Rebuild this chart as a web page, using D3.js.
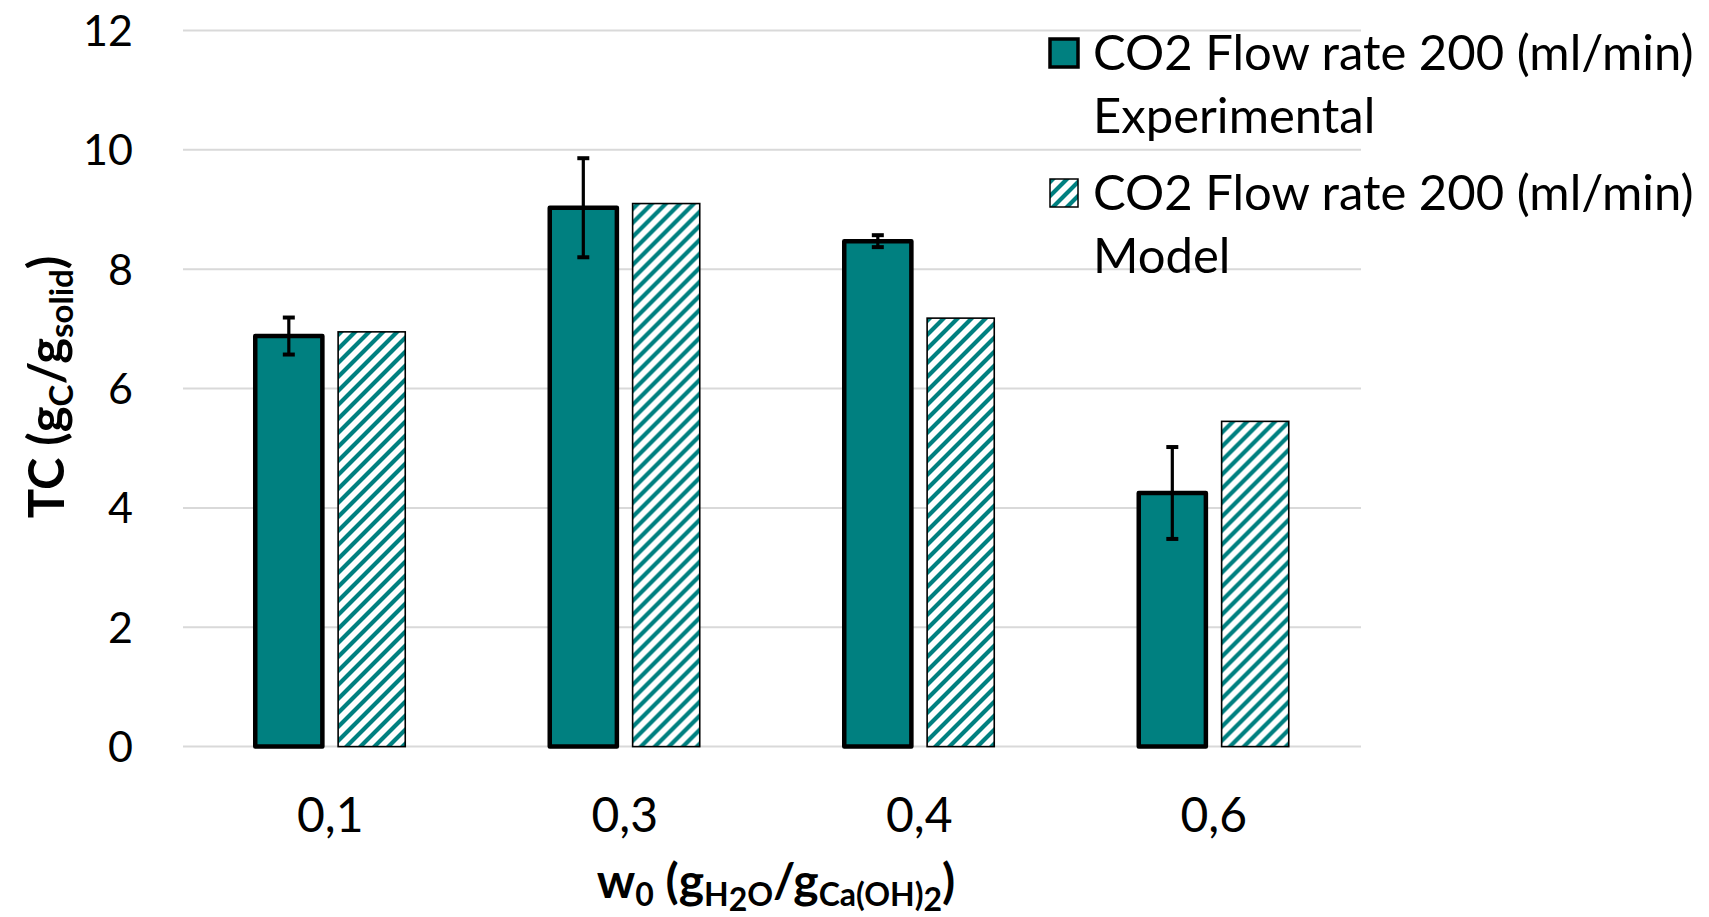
<!DOCTYPE html>
<html>
<head>
<meta charset="utf-8">
<title>TC vs w0</title>
<script src="https://cdn.jsdelivr.net/npm/d3@7"></script>
<style>
  body { margin: 0; background: #fff; }
  text { font-family: Lato, "Open Sans", sans-serif; fill: #000; }
</style>
</head>
<body>
<script>
// data
var categories = ["0,1", "0,3", "0,4", "0,6"];
var experimental = [6.88, 9.03, 8.47, 4.25];
var expError = [0.31, 0.83, 0.10, 0.77];
var model = [6.95, 9.10, 7.18, 5.45];
var yTicks = [0, 2, 4, 6, 8, 10, 12];
var seriesNames = ["exp", "model"];
var legendLines = [
  ["CO2 Flow rate 200 (ml/min)", "Experimental"],
  ["CO2 Flow rate 200 (ml/min)", "Model"]
];

var width = 1709, height = 917;
var teal = "#008080";
var plotLeft = 183, plotRight = 1361, plotTop = 30.5, plotBottom = 746.6;

var svg = d3.select("body").append("svg")
  .attr("width", width)
  .attr("height", height);

// hatch for the model bars
var defs = svg.append("defs");
var pat = defs.append("pattern")
  .attr("id", "hatch")
  .attr("patternUnits", "userSpaceOnUse")
  .attr("width", 14)
  .attr("height", 14);
pat.append("rect").attr("width", 14).attr("height", 14).attr("fill", "#fff");
pat.append("path")
  .attr("d", "M-3,3 L3,-3 M0,14 L14,0 M11,17 L17,11")
  .attr("stroke", teal)
  .attr("stroke-width", 4.2);

var y = d3.scaleLinear().domain([0, 12]).range([plotBottom, plotTop]);
var x0 = d3.scaleBand().domain(categories).range([plotLeft, plotRight]);
var groupW = 150;
var x1 = d3.scaleBand().domain(seriesNames)
  .range([(x0.bandwidth() - groupW) / 2, (x0.bandwidth() + groupW) / 2])
  .paddingInner(0.19);

// gridlines
svg.append("g").selectAll("line")
  .data(yTicks)
  .enter().append("line")
  .attr("x1", plotLeft).attr("x2", plotRight)
  .attr("y1", function(d){ return y(d); })
  .attr("y2", function(d){ return y(d); })
  .attr("stroke", "#d9d9d9")
  .attr("stroke-width", 2);

// y tick labels
svg.append("g").selectAll("text")
  .data(yTicks)
  .enter().append("text")
  .attr("x", 133)
  .attr("y", function(d){ return y(d); })
  .attr("dy", "0.36em")
  .attr("text-anchor", "end")
  .style("font-size", "43px")
  .text(function(d){ return d; });

// bars
var groups = svg.append("g").selectAll("g")
  .data(categories)
  .enter().append("g")
  .attr("transform", function(d){ return "translate(" + x0(d) + ",0)"; });

groups.append("rect")
  .attr("x", x1("model"))
  .attr("y", function(d, i){ return y(model[i]); })
  .attr("width", x1.bandwidth())
  .attr("height", function(d, i){ return y(0) - y(model[i]); })
  .attr("fill", "url(#hatch)")
  .attr("stroke", "#000")
  .attr("stroke-width", 1.6);

groups.append("rect")
  .attr("x", x1("exp"))
  .attr("y", function(d, i){ return y(experimental[i]); })
  .attr("width", x1.bandwidth())
  .attr("height", function(d, i){ return y(0) - y(experimental[i]); })
  .attr("fill", teal)
  .attr("stroke", "#000")
  .attr("stroke-width", 4.5)
  .attr("stroke-linejoin", "round");

// error bars
var cx = x1("exp") + x1.bandwidth() / 2;
groups.append("line")
  .attr("x1", cx).attr("x2", cx)
  .attr("y1", function(d, i){ return y(experimental[i] + expError[i]); })
  .attr("y2", function(d, i){ return y(experimental[i] - expError[i]); })
  .attr("stroke", "#000").attr("stroke-width", 3.2);
[1, -1].forEach(function(s){
  groups.append("line")
    .attr("x1", cx - 6).attr("x2", cx + 6)
    .attr("y1", function(d, i){ return y(experimental[i] + s * expError[i]); })
    .attr("y2", function(d, i){ return y(experimental[i] + s * expError[i]); })
    .attr("stroke", "#000").attr("stroke-width", 4);
});

// x tick labels
svg.append("g").selectAll("text")
  .data(categories)
  .enter().append("text")
  .attr("x", function(d){ return x0(d) + x0.bandwidth() / 2; })
  .attr("y", 832)
  .attr("text-anchor", "middle")
  .style("font-size", "48px")
  .text(function(d){ return d; });

// axis titles
var yt = svg.append("text")
  .attr("transform", "translate(64,387) rotate(-90)")
  .attr("text-anchor", "middle")
  .style("font-size", "49px")
  .style("font-weight", "bold");
yt.append("tspan").text("TC (g");
yt.append("tspan").attr("dy", 9).style("font-size", "33px").text("C");
yt.append("tspan").attr("dy", -9).text("/g");
yt.append("tspan").attr("dy", 9).style("font-size", "33px").text("solid");
yt.append("tspan").attr("dy", -9).text(")");

var xt = svg.append("text")
  .attr("x", 776)
  .attr("y", 898)
  .attr("text-anchor", "middle")
  .style("font-size", "48px")
  .style("font-weight", "bold");
xt.append("tspan").text("w");
xt.append("tspan").attr("dy", 8).style("font-size", "32px").text("0");
xt.append("tspan").attr("dy", -8).text(" (g");
xt.append("tspan").attr("dy", 8).style("font-size", "32px").text("H");
xt.append("tspan").attr("dy", 5).style("font-size", "32px").text("2");
xt.append("tspan").attr("dy", -5).style("font-size", "32px").text("O");
xt.append("tspan").attr("dy", -8).text("/g");
xt.append("tspan").attr("dy", 8).style("font-size", "32px").text("Ca(OH)");
xt.append("tspan").attr("dy", 5).style("font-size", "32px").text("2");
xt.append("tspan").attr("dy", -13).text(")");

// legend
var legend = svg.append("g").selectAll("g")
  .data(legendLines)
  .enter().append("g")
  .attr("transform", function(d, i){ return "translate(0," + (i * 140) + ")"; });

legend.append("rect")
  .attr("x", 1050).attr("y", 39)
  .attr("width", 28).attr("height", 28)
  .attr("fill", function(d, i){ return i === 0 ? teal : "url(#hatch)"; })
  .attr("stroke", "#000")
  .attr("stroke-width", function(d, i){ return i === 0 ? 3.5 : 1.5; });

legend.each(function(d){
  var t = d3.select(this).append("text")
    .attr("x", 1093)
    .attr("y", 70)
    .style("font-size", "49px");
  t.append("tspan").text(d[0]);
  t.append("tspan").attr("x", 1093).attr("dy", 63).text(d[1]);
});
</script>
</body>
</html>
